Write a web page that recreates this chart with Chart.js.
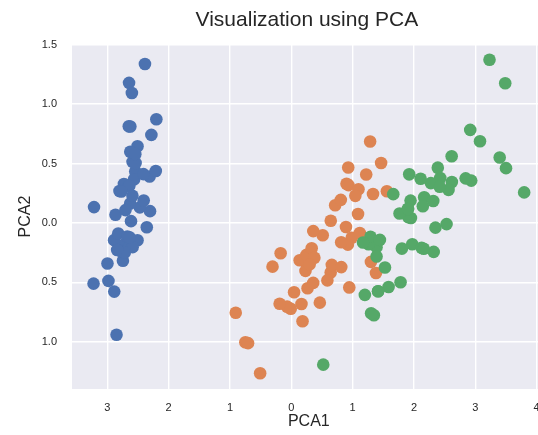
<!DOCTYPE html>
<html>
<head>
<meta charset="utf-8">
<script src="https://cdn.jsdelivr.net/npm/chart.js@4.4.1/dist/chart.umd.min.js"></script>
<style>
html, body { margin: 0; padding: 0; overflow: hidden; background: #ffffff; width: 538px; height: 435px; }
#wrap { position: absolute; left: 0; top: 0; width: 560px; height: 435px; }
</style>
</head>
<body>
<div id="wrap"><canvas id="c" width="560" height="435"></canvas></div>
<script>
const chartTitle = 'Visualization using PCA';
const xAxisTitle = 'PCA1';
const yAxisTitle = 'PCA2';
const seriesNames = ['setosa', 'versicolor', 'virginica'];

const setosaX = [-2.684,-2.714,-2.889,-2.745,-2.729,-2.281,-2.821,-2.626,-2.886,-2.673,-2.507,-2.613,-2.786,-3.224,-2.645,-2.386,-2.624,-2.648,-2.200,-2.588,-2.310,-2.544,-3.216,-2.303,-2.356,-2.507,-2.469,-2.562,-2.640,-2.632,-2.587,-2.410,-2.649,-2.599,-2.637,-2.866,-2.625,-2.801,-2.981,-2.590,-2.770,-2.849,-2.997,-2.406,-2.209,-2.714,-2.538,-2.839,-2.543,-2.703];
const setosaY = [0.319,-0.177,-0.145,-0.318,0.327,0.741,-0.089,0.163,-0.578,-0.114,0.645,0.015,-0.235,-0.511,1.179,1.338,0.811,0.312,0.873,0.514,0.391,0.433,0.133,0.099,-0.037,-0.146,0.131,0.368,0.312,-0.197,-0.204,0.411,0.813,1.093,-0.121,0.069,0.599,0.269,-0.488,0.229,0.264,-0.941,-0.342,0.189,0.437,-0.250,0.504,-0.228,0.579,0.108];

const versicolorX = [1.285,0.932,1.464,0.183,1.088,0.642,1.095,-0.749,1.044,-0.009,-0.508,0.512,0.265,0.985,-0.174,0.928,0.660,0.236,0.945,0.045,1.116,0.358,1.298,0.922,0.715,0.900,1.332,1.558,0.813,-0.306,-0.068,-0.190,0.136,1.380,0.588,0.807,1.221,0.815,0.246,0.166,0.465,0.891,0.231,-0.705,0.357,0.332,0.376,0.643,-0.906,0.299];
const versicolorY = [0.685,0.318,0.504,-0.828,0.075,-0.418,0.283,-1.005,0.228,-0.723,-1.266,-0.104,-0.550,-0.125,-0.255,0.467,-0.353,-0.334,-0.543,-0.584,-0.085,-0.069,-0.328,-0.183,0.149,0.329,0.244,0.267,-0.163,-0.368,-0.705,-0.680,-0.314,-0.421,-0.484,0.194,0.408,-0.372,-0.269,-0.682,-0.671,-0.034,-0.404,-1.012,-0.505,-0.213,-0.293,0.018,-0.756,-0.349];

const virginicaX = [2.531,1.415,2.617,1.972,2.350,3.397,0.521,2.933,2.321,2.917,1.662,1.803,2.166,1.346,1.586,1.904,1.950,3.487,3.796,1.301,2.428,1.199,3.500,1.389,2.275,2.614,1.259,1.291,2.124,2.388,2.842,3.231,2.159,1.444,1.781,3.076,2.144,1.905,1.169,2.108,2.314,1.922,1.415,2.563,2.419,1.944,1.527,1.764,1.901,1.390];
const virginicaY = [-0.010,-0.575,0.344,-0.180,-0.040,0.551,-1.193,0.356,-0.244,0.783,0.242,-0.216,0.216,-0.777,-0.540,0.119,0.042,1.176,0.257,-0.761,0.378,-0.606,0.461,-0.204,0.335,0.561,-0.180,-0.117,-0.210,0.465,0.375,1.374,-0.217,-0.143,-0.500,0.688,0.140,0.049,-0.165,0.372,0.184,0.409,-0.575,0.278,0.305,0.188,-0.375,0.079,0.117,-0.283];

const xTickValues = [-3, -2, -1, 0, 1, 2, 3, 4];
const xTickLabels = ['3', '2', '1', '0', '1', '2', '3', '4'];
const yTickValues = [-1.0, -0.5, 0.0, 0.5, 1.0, 1.5];
const yTickLabels = ['1.0', '0.5', '0.0', '0.5', '1.0', '1.5'];

const xRange = [-3.575, 4.147];
const yRange = [-1.398, 1.506];

const colors = ['#4C72B0', '#DD8452', '#55A868'];
const textColor = '#262626';
const fontFamily = '"Liberation Sans", Arial, Helvetica, sans-serif';

function pts(xs, ys) { return xs.map((x, i) => ({ x: x, y: ys[i] })); }

const bgPlugin = {
  id: 'plotBg',
  beforeDraw(chart) {
    const a = chart.chartArea, ctx = chart.ctx;
    ctx.save();
    ctx.fillStyle = '#EAEAF2';
    ctx.fillRect(a.left, a.top, a.right - a.left, a.bottom - a.top);
    ctx.restore();
  }
};
const titlePlugin = {
  id: 'axTitle',
  afterDraw(chart) {
    const a = chart.chartArea, ctx = chart.ctx;
    ctx.save();
    ctx.fillStyle = textColor;
    ctx.font = '21px ' + fontFamily;
    ctx.textAlign = 'center';
    ctx.textBaseline = 'alphabetic';
    ctx.fillText(chartTitle, (a.left + a.right) / 2 - 2, 26);
    ctx.restore();
  }
};

new Chart(document.getElementById('c'), {
  type: 'scatter',
  data: {
    datasets: [
      { label: seriesNames[0], data: pts(setosaX, setosaY), backgroundColor: colors[0], borderWidth: 0, pointRadius: 6.3, order: 3 },
      { label: seriesNames[1], data: pts(versicolorX, versicolorY), backgroundColor: colors[1], borderWidth: 0, pointRadius: 6.3, order: 2 },
      { label: seriesNames[2], data: pts(virginicaX, virginicaY), backgroundColor: colors[2], borderWidth: 0, pointRadius: 6.3, order: 1 }
    ]
  },
  options: {
    responsive: false,
    animation: false,
    events: [],
    layout: { padding: { top: 44, right: 14.3, bottom: 0, left: 0 } },
    plugins: { legend: { display: false }, title: { display: false }, tooltip: { enabled: false } },
    scales: {
      x: {
        type: 'linear', min: xRange[0], max: xRange[1],
        border: { display: false },
        grid: { color: '#ffffff', lineWidth: 1.4, drawTicks: false },
        afterBuildTicks(s) { s.ticks = xTickValues.map(v => ({ value: v })); },
        afterFit(s) { s.height = 46; },
        ticks: {
          padding: 12, color: textColor, font: { family: fontFamily, size: 11 }, maxRotation: 0,
          callback(v) { const i = xTickValues.indexOf(v); return i >= 0 ? xTickLabels[i] : ''; }
        },
        title: { display: true, text: xAxisTitle, color: textColor, font: { family: fontFamily, size: 16 }, padding: { top: 0, bottom: 4 } }
      },
      y: {
        type: 'linear', min: yRange[0], max: yRange[1],
        border: { display: false },
        grid: { color: '#ffffff', lineWidth: 1.4, drawTicks: false },
        afterBuildTicks(s) { s.ticks = yTickValues.map(v => ({ value: v })); },
        afterFit(s) { s.width = 72; },
        ticks: {
          padding: 15, color: textColor, font: { family: fontFamily, size: 11 },
          callback(v) { const i = yTickValues.findIndex(t => Math.abs(t - v) < 1e-9); return i >= 0 ? yTickLabels[i] : ''; }
        },
        title: { display: true, text: yAxisTitle, color: textColor, font: { family: fontFamily, size: 16 }, padding: { top: 16, bottom: 0 } }
      }
    }
  },
  plugins: [bgPlugin, titlePlugin]
});
</script>
</body>
</html>
